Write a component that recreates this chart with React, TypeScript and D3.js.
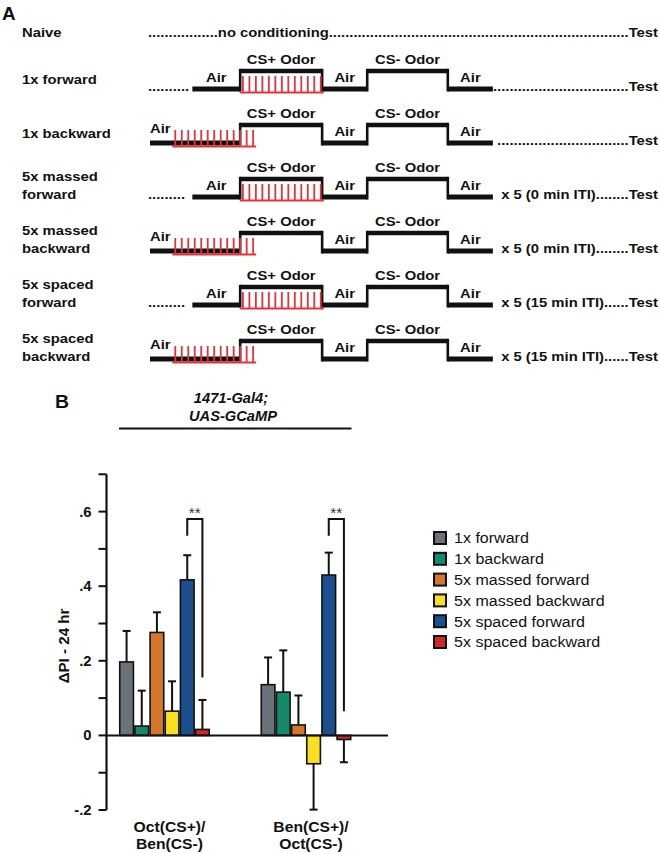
import React from 'react';
import * as d3 from 'd3';

// ---------- Panel A data ----------
const protocolNames: string[][] = [
  ['Naive'],
  ['1x forward'],
  ['1x backward'],
  ['5x massed', 'forward'],
  ['5x massed', 'backward'],
  ['5x spaced', 'forward'],
  ['5x spaced', 'backward'],
];
const protocolDirection = ['none', 'forward', 'backward', 'forward', 'backward', 'forward', 'backward'];
const protocolLeadDots = ['', '..........', '', '.........', '', '.........', ''];
const protocolSuffix = [
  '',
  '.................................Test',
  '................................Test',
  'x 5 (0 min ITI)........Test',
  'x 5 (0 min ITI)........Test',
  'x 5 (15 min ITI)......Test',
  'x 5 (15 min ITI)......Test',
];
const naiveText = '.................no conditioning.........................................................................Test';
const phaseLabels = ['Air', 'CS+ Odor', 'Air', 'CS- Odor', 'Air'];
const phaseStart = [0, 35, 95, 128, 187];
const phaseEnd = [35, 95, 128, 187, 220];
const phaseLevel = [0, 1, 0, 1, 0];
const backwardAirStart = -31;
const shockOnsetForward = 35;
const shockOnsetBackward = -14.5;
const shockOffsets = [2, 6.75, 11.5, 16.25, 21, 25.75, 30.5, 35.25, 40, 44.75, 49.5, 54.25, 59];

// ---------- Panel B data ----------
const groupLabels: string[][] = [['Oct(CS+)/', 'Ben(CS-)'], ['Ben(CS+)/', 'Oct(CS-)']];
const groups = ['OctBen', 'BenOct'];
const series = ['1x forward', '1x backward', '5x massed forward', '5x massed backward', '5x spaced forward', '5x spaced backward'];
const seriesColors = ['#6c7279', '#138a6c', '#d4762c', '#f8df22', '#1b4f8e', '#d2262b'];
const octBenMean = [0.197, 0.025, 0.276, 0.065, 0.417, 0.016];
const octBenSem = [0.083, 0.095, 0.054, 0.08, 0.066, 0.079];
const benOctMean = [0.136, 0.116, 0.028, -0.076, 0.43, -0.011];
const benOctSem = [0.073, 0.112, 0.079, 0.123, 0.06, 0.061];
const sigTop = [0.58, 0.58];
const sigLeftBottom = [0.535, 0.535];
const sigRightBottom = [0.155, 0.065];
const sigText = ['**', '**'];
const yTickValues = [-0.2, -0.1, 0, 0.1, 0.2, 0.3, 0.4, 0.5, 0.6, 0.7];
const yTickLabels = ['-.2', '', '0', '', '.2', '', '.4', '', '.6', ''];
const yAxisTitle = '\u0394PI - 24 hr';
const genotypeLines = ['1471-Gal4;', 'UAS-GCaMP'];

const FONT = "'Liberation Sans', Arial, Helvetica, sans-serif";
const INK = '#111';
const RED = '#e2343a';

function T(props: any) {
  const { x, y, size = 13, weight = 'bold', sx = 1.14, anchor = 'start', italic = false, fill = INK, rotate = 0, children } = props;
  const tr = `translate(${x},${y})` + (rotate ? ` rotate(${rotate})` : '') + ` scale(${sx},1)`;
  return (
    <text transform={tr} fontSize={size} fontWeight={weight} fontStyle={italic ? 'italic' : 'normal'}
      textAnchor={anchor} fill={fill} fontFamily={FONT}>{children}</text>
  );
}

export default function App() {
  const W = 660, H = 853;
  // Panel A scales
  const tX = d3.scaleLinear().domain([-31, 220]).range([150, 492.9]);
  const rowY = d3.scaleLinear().domain([0, 6]).range([35, 359]);
  const highOffset = 18;

  // Panel B scales
  const y = d3.scaleLinear().domain([-0.2, 0.7]).range([810, 474.3]);
  const x0 = d3.scaleBand<string>().domain(groups).range([119, 351.5]).paddingInner(0.357).paddingOuter(0);
  const x1 = d3.scaleBand<string>().domain(series).range([0, x0.bandwidth()]).padding(0);
  const means = [octBenMean, benOctMean];
  const sems = [octBenSem, benOctSem];
  const axisX = 106.5;

  const legendY = d3.scaleLinear().domain([0, 5]).range([538, 642]);

  return (
    <svg width={W} height={H} viewBox={`0 0 ${W} ${H}`} style={{ position: 'absolute', left: 0, top: 0, background: '#fff' }}>
      <rect x={0} y={0} width={W} height={H} fill="#fff" />
      {/* Panel A */}
      <T x={2} y={20} size={18} sx={1.05}>A</T>
      {protocolNames.map((lines, i) => {
        const low = rowY(i);
        const high = low - highOffset;
        const dir = protocolDirection[i];
        const els: any[] = [];
        if (lines.length === 1) {
          els.push(<T key="l" x={22} y={i === 0 ? low + 2 : low - 5}>{lines[0]}</T>);
        } else {
          els.push(<T key="l1" x={22} y={low - 16}>{lines[0]}</T>);
          els.push(<T key="l2" x={22} y={low + 2}>{lines[1]}</T>);
        }
        if (dir === 'none') {
          els.push(
            <text key="nv" x={148} y={low + 2} fontSize={13} fontWeight="bold" fill={INK} fontFamily={FONT}
              textLength={510} lengthAdjust="spacingAndGlyphs">{naiveText}</text>
          );
          return <g key={i}>{els}</g>;
        }
        // phases
        phaseLabels.forEach((lab, k) => {
          const s = k === 0 && dir === 'backward' ? backwardAirStart : phaseStart[k];
          const e = phaseEnd[k];
          const lv = phaseLevel[k] ? high : low;
          els.push(<line key={'h' + k} x1={tX(s)} x2={tX(e)} y1={lv} y2={lv} stroke={INK} strokeWidth={phaseLevel[k] ? 4.5 : 5} />);
          if (k > 0) {
            els.push(<line key={'v' + k} x1={tX(s)} x2={tX(s)} y1={low + 2.5} y2={high - 2.2} stroke={INK} strokeWidth={2.6} />);
          }
          if (k === 0 && dir === 'backward') {
            els.push(<T key={'t' + k} x={tX(s)} y={low - 10}>{lab}</T>);
          } else {
            els.push(<T key={'t' + k} x={(tX(s) + tX(e)) / 2} y={lv - 7} anchor="middle">{lab}</T>);
          }
        });
        // shocks
        const onset = dir === 'forward' ? shockOnsetForward : shockOnsetBackward;
        const xs = shockOffsets.map((o) => tX(onset + o));
        const base = low + 3.5;
        const top = low - 13;
        const sp = `M${xs[0] - 3},${base}H${xs[xs.length - 1] + 3}` + xs.map((xx) => `M${xx},${base + 0.7}V${top}`).join('');
        els.push(<path key="sh" d={sp} stroke={RED} strokeWidth={1.8} fill="none" />);
        if (protocolLeadDots[i]) {
          els.push(<T key="ld" x={148} y={low + 1.5}>{protocolLeadDots[i]}</T>);
        }
        els.push(<T key="sf" x={658} y={low + 2} anchor="end">{protocolSuffix[i]}</T>);
        return <g key={i}>{els}</g>;
      })}

      {/* Panel B */}
      <T x={55} y={408} size={19} sx={1.02}>B</T>
      <T x={231} y={403} size={14} sx={1.05} italic anchor="middle">{genotypeLines[0]}</T>
      <T x={233} y={421} size={14} sx={1.05} italic anchor="middle">{genotypeLines[1]}</T>
      <line x1={x0.range()[0]} x2={x0.range()[1]} y1={428.5} y2={428.5} stroke={INK} strokeWidth={2} />

      {/* y axis */}
      <line x1={axisX} x2={axisX} y1={y(0.7)} y2={y(-0.2)} stroke={INK} strokeWidth={2.2} />
      {yTickValues.map((v, k) => (
        <g key={k}>
          <line x1={axisX - 8} x2={axisX} y1={y(v)} y2={y(v)} stroke={INK} strokeWidth={2} />
          {yTickLabels[k] && <T x={91.5} y={y(v) + 5} size={14} sx={1.06} anchor="end">{yTickLabels[k]}</T>}
        </g>
      ))}
      <T x={68.5} y={646} size={14} sx={1.08} rotate={-90} anchor="middle">{yAxisTitle}</T>

      {/* bars */}
      {groups.map((g, gi) => (
        <g key={g}>
          {series.map((s, si) => {
            const v = means[gi][si];
            const e = sems[gi][si];
            const bx = (x0(g) as number) + (x1(s) as number);
            const bw = x1.bandwidth();
            const cx = bx + bw / 2;
            const ev = v >= 0 ? v + e : v - e;
            return (
              <g key={s}>
                <line x1={cx} x2={cx} y1={y(v)} y2={y(ev)} stroke={INK} strokeWidth={2} />
                <line x1={cx - 4} x2={cx + 4} y1={y(ev)} y2={y(ev)} stroke={INK} strokeWidth={2} />
                <rect x={bx + 0.75} y={y(Math.max(0, v))} width={bw - 1.5} height={Math.abs(y(v) - y(0))}
                  fill={seriesColors[si]} stroke={INK} strokeWidth={1.6} />
              </g>
            );
          })}
          {(() => {
            const xl = (x0(g) as number) + (x1(series[4]) as number) + x1.bandwidth() / 2;
            const xr = (x0(g) as number) + (x1(series[5]) as number) + x1.bandwidth() / 2;
            return (
              <g>
                <path d={`M${xl},${y(sigLeftBottom[gi])}V${y(sigTop[gi])}H${xr}V${y(sigRightBottom[gi])}`}
                  fill="none" stroke={INK} strokeWidth={2} />
                <T x={(xl + xr) / 2} y={y(sigTop[gi]) - 1} size={14} weight="normal" sx={1.1} anchor="middle" fill="#333">{sigText[gi]}</T>
              </g>
            );
          })()}
          {groupLabels[gi].map((ln, li) => (
            <T key={li} x={(x0(g) as number) + x0.bandwidth() / 2 + 5} y={832 + li * 16.5} size={14} sx={1.12} anchor="middle">{ln}</T>
          ))}
        </g>
      ))}
      {/* zero line */}
      <line x1={axisX} x2={388} y1={y(0)} y2={y(0)} stroke={INK} strokeWidth={2} />

      {/* legend */}
      {series.map((s, si) => (
        <g key={s}>
          <rect x={434} y={legendY(si) - 6} width={12} height={12} fill={seriesColors[si]} stroke={INK} strokeWidth={2} />
          <T x={454} y={legendY(si) + 5.3} size={15} weight="normal" sx={1.07}>{s}</T>
        </g>
      ))}
    </svg>
  );
}
